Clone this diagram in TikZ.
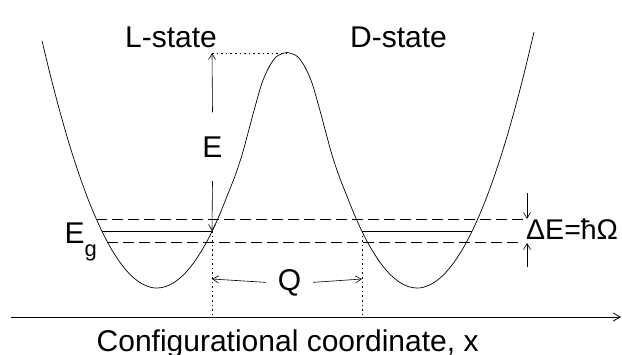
\documentclass[tikz,border=0pt]{standalone}
\usepackage{fontspec}
\setmainfont{Liberation Sans}
\usetikzlibrary{arrows.meta,calc}
\tikzset{
  curve/.style={line width=0.7pt},
  arr/.style={line width=0.6pt,-{Straight Barb[length=6pt,width=7pt]}},
  dashedlevel/.style={line width=0.8pt,dash pattern=on 11pt off 5pt},
  dottedline/.style={line width=0.8pt,dash pattern=on 1.6pt off 3pt},
  levelline/.style={line width=0.8pt},
  lbl/.style={font=\fontsize{30}{36}\selectfont,inner sep=0pt},
}
\begin{document}
\begin{tikzpicture}[x=1pt,y=-1pt]
\useasboundingbox (0,0) rectangle (622,354);
% potential curve
\draw[curve] plot[smooth,tension=0.5] coordinates {
(42,40.7) (50,73.9) (60,112.0) (70,146.5) (80,177.1) (90,204.1) (100,227.2) (110,246.7) (120,262.4) (130,274.4) (140,282.6) (150,287.1) (157,288)
(165,286.8) (175,281.9) (185,273.3) (195,261.0) (205,244.9) (212,231.4) (220,213.8) (228,193.7)
(235,176) (242,155) (248,133) (255,107) (262,83) (269,67) (276,57) (281,54.2) (287,52.5)
(293,54.2) (298,57) (305,67) (312,83) (319,107) (326,133) (332,155) (339,176)
(346,193.7) (354,213.8) (362,231.4) (369,244.9) (379,261.0) (389,273.3) (399,281.9) (409,286.8) (417,288)
(424,287.1) (434,282.6) (444,274.4) (454,262.4) (464,246.7) (474,227.2) (484,204.1) (494,177.1) (504,146.5) (514,112.0) (524,73.9) (534,32.0)};
% key points
\coordinate (lvlL) at (101.8,231);
\coordinate (eBot) at (212,231);
\coordinate (dR) at (362,231);
\coordinate (lvlR) at (472.2,231);
\coordinate (top) at (212,53);
\coordinate (peak) at (287,53);
\coordinate (axL) at (11,317);
\coordinate (axR) at (621,317);
\coordinate (dLb) at (212,317);
\coordinate (dRb) at (362,317);
\coordinate (qL) at (212,279);
\coordinate (qR) at (362,279);
\coordinate (upS) at (96.3,219);
\coordinate (upE) at (523,219);
\coordinate (loS) at (107.4,242);
\coordinate (loE) at (523,242);
\coordinate (dnA) at (527,193);
\coordinate (dnB) at (527,219);
\coordinate (upA) at (527,267);
\coordinate (upB) at (527,243);
% levels
\draw[dashedlevel] (upS) -- (upE);
\draw[dashedlevel] (loS) -- (loE);
\draw[levelline] (lvlL) -- (eBot);
\draw[levelline] (dR) -- (lvlR);
% dotted lines
\draw[dottedline] (top) -- (peak);
\draw[dottedline] (eBot) -- (dLb);
\draw[dottedline] (dR) -- (dRb);
% axis
\draw[line width=0.8pt,-{Straight Barb[length=7pt,width=8pt]}] (axL) -- (axR);
% labels
\node[lbl,anchor=base west] (Ls) at (125,47) {L-state};
\node[lbl,anchor=base west] (Ds) at (350,47) {D-state};
\node[lbl,anchor=base,outer ysep=24pt] (E) at (212.5,157) {E};
\node[lbl,anchor=base,outer xsep=12pt] (Q) at (289.5,290) {Q};
\node[lbl,anchor=base west] (Eg) at (64.5,243) {E\raisebox{-13.4pt}{\fontsize{22}{26}\selectfont g}};
\node[inner sep=0pt,anchor=base west,font=\fontsize{28.5}{33}\selectfont] (dE) at (526,239) {ΔE=ħΩ};
\node[lbl,anchor=base west] (xl) at (96.5,351) {Configurational coordinate, x};
% arrows
\draw[arr] (E.north) -- (top);
\draw[arr] (E.south) -- (eBot);
\draw[arr] (Q.west) -- (qL);
\draw[arr] (Q.east) -- (qR);
\draw[arr] (dnA) -- (dnB);
\draw[arr] (upA) -- (upB);
\end{tikzpicture}
\end{document}
